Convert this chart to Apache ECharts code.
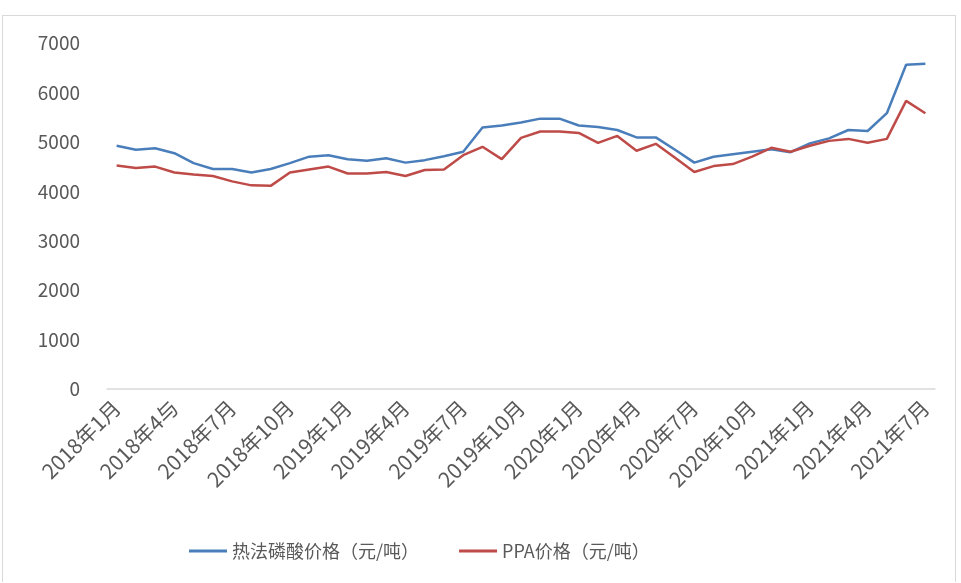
<!DOCTYPE html>
<html>
<head>
  <meta charset="UTF-8" />
  <title>热法磷酸与PPA价格</title>
  <script src="https://cdn.jsdelivr.net/npm/echarts@6/dist/echarts.min.js"></script>
  <style>
    body { margin: 0; background: #fff; }
    #frame {
      position: absolute; left: 2px; top: 15px; width: 952px; height: 566px;
      border: 1px solid #d9d9d9; border-bottom: none;
    }
    #main { position: absolute; left: 0; top: 0; width: 961px; height: 583px; }
  </style>
</head>
<body>
  <div id="frame"></div>
  <div id="main"></div>
  <script>
    // months Jan 2018 .. Jul 2021 (the "4与" typo is in the original)
    const months = [];
    for (let y = 2018; y <= 2021; y++) {
      for (let m = 1; m <= 12; m++) {
        if (y === 2021 && m > 7) break;
        months.push(y + '年' + m + (y === 2018 && m === 4 ? '与' : '月'));
      }
    }

    const thermalPrice = [4920, 4840, 4870, 4770, 4570, 4450, 4450, 4380, 4450, 4570,
      4700, 4730, 4650, 4620, 4670, 4580, 4630, 4710, 4800, 5290,
      5330, 5390, 5470, 5470, 5330, 5300, 5240, 5090, 5090, 4840,
      4580, 4700, 4750, 4800, 4850, 4790, 4970, 5070, 5240, 5220,
      5580, 6560, 6580];
    const ppaPrice = [4520, 4470, 4500, 4380, 4340, 4310, 4200, 4120, 4110, 4380,
      4440, 4500, 4360, 4360, 4390, 4310, 4430, 4440, 4730, 4900,
      4650, 5080, 5210, 5210, 5180, 4980, 5120, 4820, 4960, 4680,
      4390, 4510, 4550, 4700, 4880, 4800, 4920, 5020, 5060, 4980,
      5060, 5830, 5580];

    const font = '"Noto Sans CJK SC", sans-serif';
    const chart = echarts.init(document.getElementById('main'));
    chart.setOption({
      animation: false,
      textStyle: { fontFamily: font },
      grid: { left: 107, right: 26, top: 43, bottom: 194 },
      legend: {
        top: 537,
        left: 184,
        itemWidth: 38,
        itemHeight: 3,
        itemGap: 40,
        icon: 'rect',
        textStyle: { fontSize: 18, color: '#595959', fontFamily: font },
        data: ['热法磷酸价格（元/吨）', 'PPA价格（元/吨）']
      },
      xAxis: {
        type: 'category',
        data: months,
        boundaryGap: true,
        axisLine: { lineStyle: { color: '#d9d9d9', width: 1.5 } },
        axisTick: { show: false },
        axisLabel: {
          interval: 2,
          rotate: 45,
          fontSize: 21,
          color: '#595959',
          margin: 15
        }
      },
      yAxis: {
        type: 'value',
        min: 0,
        max: 7000,
        interval: 1000,
        splitLine: { show: false },
        axisLine: { show: false },
        axisTick: { show: false },
        axisLabel: {
          fontSize: 19,
          color: '#595959',
          margin: 27,
          formatter: v => String(v)
        }
      },
      series: [
        {
          name: '热法磷酸价格（元/吨）',
          type: 'line',
          data: thermalPrice,
          symbol: 'none',
          lineStyle: { color: '#4a7ebb', width: 2.5 },
          itemStyle: { color: '#4a7ebb' }
        },
        {
          name: 'PPA价格（元/吨）',
          type: 'line',
          data: ppaPrice,
          symbol: 'none',
          lineStyle: { color: '#be4b48', width: 2.5 },
          itemStyle: { color: '#be4b48' }
        }
      ]
    });
  </script>
</body>
</html>
